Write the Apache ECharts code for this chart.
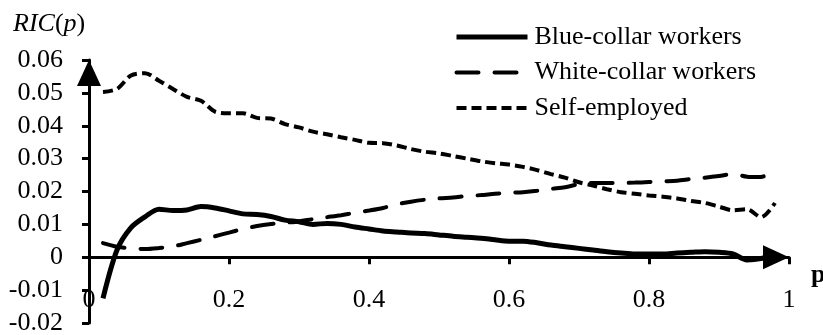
<!DOCTYPE html>
<html>
<head>
<meta charset="utf-8">
<script src="https://cdn.jsdelivr.net/npm/echarts@6/dist/echarts.min.js"></script>
<style>
html,body{margin:0;padding:0;background:#fff;}
#chart{width:823px;height:335px;}
</style>
</head>
<body>
<div id="chart"></div>
<script>
var pValues = [0.02,0.04,0.06,0.08,0.10,0.12,0.14,0.16,0.18,0.20,0.22,0.24,0.26,0.28,0.30,0.32,0.34,0.36,0.38,0.40,0.42,0.44,0.46,0.48,0.50,0.52,0.54,0.56,0.58,0.60,0.62,0.64,0.66,0.68,0.70,0.72,0.74,0.76,0.78,0.80,0.82,0.84,0.86,0.88,0.90,0.92,0.94,0.96,0.98];
var blueCollar = [-0.0125,0.0022,0.0090,0.0123,0.0146,0.0142,0.0144,0.0154,0.0150,0.0141,0.0132,0.0130,0.0124,0.0113,0.0108,0.0100,0.0103,0.0100,0.0092,0.0086,0.0080,0.0077,0.0074,0.0072,0.0068,0.0064,0.0061,0.0058,0.0053,0.0049,0.0049,0.0044,0.0037,0.0032,0.0027,0.0022,0.0017,0.0013,0.0010,0.0010,0.0010,0.0013,0.0015,0.0017,0.0015,0.0010,-0.0008,-0.0004,0.0008];
var whiteCollar = [0.0043,0.0032,0.0027,0.0025,0.0028,0.0033,0.0043,0.0053,0.0064,0.0075,0.0086,0.0095,0.0101,0.0105,0.0109,0.0116,0.0122,0.0128,0.0135,0.0142,0.0150,0.0161,0.0169,0.0175,0.0179,0.0182,0.0186,0.0189,0.0193,0.0196,0.0198,0.0202,0.0208,0.0213,0.0222,0.0226,0.0226,0.0226,0.0227,0.0229,0.0231,0.0233,0.0238,0.0242,0.0247,0.0253,0.0245,0.0244,0.0268];
var selfEmployed = [0.0503,0.0512,0.0553,0.0560,0.0537,0.0512,0.0488,0.0476,0.0443,0.0438,0.0438,0.0424,0.0422,0.0405,0.0395,0.0382,0.0374,0.0365,0.0357,0.0348,0.0347,0.0340,0.0329,0.0321,0.0316,0.0308,0.0300,0.0292,0.0286,0.0282,0.0275,0.0265,0.0253,0.0242,0.0228,0.0218,0.0207,0.0198,0.0193,0.0188,0.0184,0.0179,0.0171,0.0165,0.0154,0.0143,0.0146,0.0122,0.0165];
var seriesNames = ['Blue-collar workers','White-collar workers','Self-employed'];
var xAxisTitle = 'p';

function pairs(vals){ return pValues.map(function(p,i){ return [p, vals[i]]; }); }
var FONT = '"Liberation Serif", "Times New Roman", serif';
var FS = 26;

var chart = echarts.init(document.getElementById('chart'), null, {renderer:'canvas'});
chart.setOption({
  animation:false,
  backgroundColor:'#fff',
  textStyle:{fontFamily:FONT,color:'#000'},
  title:{
    text:'{i|RIC}({i|p})',
    left:8, top:6,
    textStyle:{fontFamily:FONT,fontSize:FS,fontWeight:'normal',color:'#000',
      rich:{i:{fontFamily:FONT,fontSize:FS,fontStyle:'italic',color:'#000'}}}
  },
  legend:{
    orient:'vertical',
    left:449, top:19,
    itemWidth:71, itemHeight:14, itemGap:9.5,
    lineStyle:{width:'inherit'},
    itemStyle:{color:'rgba(0,0,0,0)',borderColor:'rgba(0,0,0,0)',borderWidth:0},
    textStyle:{fontFamily:FONT,fontSize:FS,color:'#000',lineHeight:26,padding:[0,0,0,2]},
    data:seriesNames
  },
  graphic:[{
    type:'text', left:811, top:262,
    style:{text:xAxisTitle, font:'bold 26px "Liberation Serif", "Times New Roman", serif', fill:'#000'}
  }],
  grid:{left:89,right:34,top:60,bottom:12,containLabel:false,outerBoundsMode:'none'},
  xAxis:{
    type:'value', min:0, max:1, interval:0.2,
    axisLine:{onZero:true,show:true,lineStyle:{color:'#000',width:3},symbol:['none','triangle'],symbolSize:[24,26],symbolOffset:[0,-13]},
    axisTick:{show:true,inside:false,length:7,lineStyle:{color:'#000',width:3}},
    axisLabel:{fontFamily:FONT,fontSize:FS,color:'#000',margin:-36},
    splitLine:{show:false}
  },
  yAxis:{
    type:'value', min:-0.02, max:0.06, interval:0.01,
    axisLine:{show:true,lineStyle:{color:'#000',width:3},symbol:['none','triangle'],symbolSize:[24,26],symbolOffset:[0,-13]},
    axisTick:{show:true,inside:false,length:7,lineStyle:{color:'#000',width:3}},
    axisLabel:{fontFamily:FONT,fontSize:FS,color:'#000',margin:26},
    splitLine:{show:false}
  },
  series:[
    {name:seriesNames[0],type:'line',data:pairs(blueCollar),symbol:'none',smooth:0.3,
     lineStyle:{color:'#000',width:5,type:'solid'},itemStyle:{color:'#000'}},
    {name:seriesNames[1],type:'line',data:pairs(whiteCollar),symbol:'none',smooth:0.3,
     lineStyle:{color:'#000',width:4,type:[22,16],cap:'round'},itemStyle:{color:'#000'}},
    {name:seriesNames[2],type:'line',data:pairs(selfEmployed),symbol:'none',smooth:0.3,
     lineStyle:{color:'#000',width:4,type:[10,5],cap:'butt'},itemStyle:{color:'#000'}}
  ]
});
</script>
</body>
</html>
